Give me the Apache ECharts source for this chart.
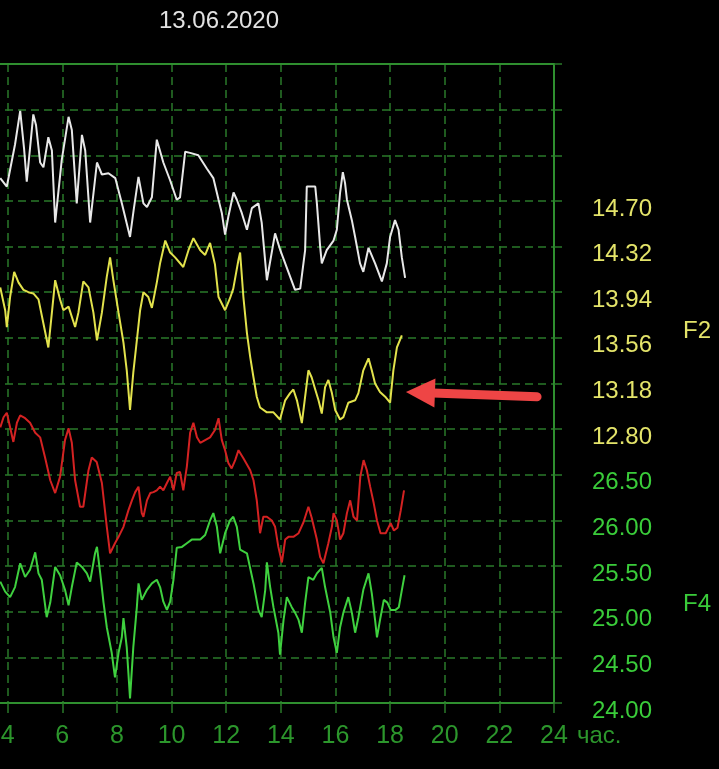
<!DOCTYPE html>
<html>
<head>
<meta charset="utf-8">
<script src="https://cdn.jsdelivr.net/npm/echarts@6/dist/echarts.min.js"></script>
<style>
html,body{margin:0;padding:0;background:#000;}
#c{width:719px;height:769px;}
</style>
</head>
<body>
<div id="c"></div>
<script>
// ---- data (hours of day, values) ----
var titleText = '13.06.2020';
var xTicks = [2, 24, 2]; // min, max, step (hours)
var yellowTicks = [14.70, 14.32, 13.94, 13.56, 13.18, 12.80];
var greenTicks = [26.50, 26.00, 25.50, 25.00, 24.50, 24.00];
var yellowRange = [10.52, 15.84];
var greenRange = [24.00, 31.00];

var whiteT = [3.73,3.97,4.27,4.46,4.60,4.70,4.94,5.04,5.19,5.31,5.49,5.62,5.74,5.98,6.23,6.35,6.53,6.72,6.84,7.02,7.27,7.45,7.69,7.94,8.18,8.48,8.61,8.79,8.97,9.10,9.28,9.46,9.70,9.95,10.19,10.31,10.50,10.68,10.98,11.29,11.53,11.72,11.84,11.96,12.08,12.27,12.39,12.57,12.76,12.94,13.18,13.30,13.49,13.79,13.98,14.52,14.71,14.89,14.95,15.26,15.32,15.44,15.50,15.68,15.93,16.05,16.17,16.27,16.35,16.42,16.60,16.72,16.90,17.02,17.21,17.45,17.70,17.88,18.00,18.18,18.31,18.43,18.55];
var whiteV = [14.89,14.82,15.17,15.45,15.14,14.86,15.42,15.33,15.02,14.98,15.23,15.12,14.52,15.04,15.40,15.29,14.68,15.25,15.12,14.52,15.02,14.92,14.93,14.89,14.68,14.40,14.62,14.90,14.68,14.65,14.73,15.21,15.02,14.87,14.71,14.73,15.11,15.10,15.08,14.97,14.89,14.71,14.60,14.42,14.57,14.77,14.71,14.60,14.46,14.64,14.68,14.52,14.04,14.43,14.29,13.96,13.97,14.29,14.82,14.82,14.68,14.32,14.18,14.29,14.37,14.46,14.77,14.94,14.85,14.71,14.54,14.40,14.18,14.11,14.31,14.18,14.03,14.18,14.40,14.54,14.46,14.23,14.06];

var yellowT = [3.73,3.91,3.97,4.09,4.24,4.40,4.58,4.76,4.94,5.13,5.31,5.49,5.62,5.74,5.92,6.04,6.23,6.47,6.59,6.77,6.96,7.14,7.27,7.45,7.63,7.75,7.87,8.06,8.24,8.36,8.48,8.60,8.73,8.85,8.97,9.15,9.28,9.46,9.58,9.77,9.95,10.13,10.43,10.62,10.80,11.05,11.23,11.41,11.59,11.72,11.96,12.14,12.26,12.45,12.51,12.63,12.76,12.88,13.00,13.12,13.24,13.49,13.73,13.97,14.16,14.34,14.46,14.59,14.77,14.89,15.01,15.13,15.26,15.38,15.50,15.62,15.74,15.87,15.99,16.17,16.29,16.47,16.72,16.84,17.02,17.21,17.33,17.45,17.63,17.82,18.00,18.12,18.25,18.43];
var yellowV = [13.98,13.79,13.65,13.90,14.11,14.02,13.96,13.94,13.93,13.88,13.68,13.48,13.77,14.04,13.88,13.79,13.82,13.65,13.77,14.03,13.98,13.77,13.54,13.77,14.07,14.23,14.04,13.77,13.52,13.29,12.96,13.27,13.54,13.79,13.94,13.90,13.81,14.02,14.18,14.37,14.27,14.23,14.15,14.29,14.39,14.29,14.25,14.35,14.17,13.90,13.79,13.89,13.97,14.21,14.27,13.90,13.60,13.40,13.23,13.07,12.98,12.94,12.94,12.88,13.04,13.10,13.13,13.04,12.85,13.07,13.29,13.23,13.13,13.04,12.93,13.15,13.21,13.10,12.96,12.88,12.90,13.02,13.04,13.10,13.29,13.39,13.29,13.18,13.11,13.07,13.02,13.29,13.48,13.58];

var redT = [3.73,3.85,3.97,4.09,4.21,4.34,4.46,4.64,4.82,5.01,5.19,5.37,5.56,5.74,5.92,6.10,6.23,6.35,6.47,6.65,6.77,6.96,7.08,7.26,7.45,7.63,7.75,7.93,8.06,8.24,8.42,8.55,8.67,8.79,8.91,8.97,9.10,9.22,9.34,9.46,9.58,9.70,9.83,9.95,10.07,10.19,10.31,10.43,10.56,10.68,10.80,10.93,11.05,11.23,11.41,11.59,11.72,11.84,11.96,12.08,12.20,12.33,12.45,12.63,12.88,13.00,13.12,13.24,13.36,13.49,13.67,13.79,13.91,14.04,14.16,14.28,14.46,14.65,14.83,15.01,15.13,15.32,15.44,15.56,15.74,15.87,15.93,16.05,16.17,16.29,16.42,16.54,16.66,16.79,16.91,17.03,17.15,17.27,17.40,17.52,17.65,17.84,18.02,18.14,18.27,18.39,18.51];
var redV = [27.02,27.13,27.18,27.02,26.86,27.07,27.15,27.12,27.07,26.96,26.91,26.69,26.44,26.30,26.48,26.88,27.01,26.85,26.44,26.15,26.15,26.55,26.69,26.64,26.41,25.93,25.64,25.75,25.82,25.93,26.11,26.22,26.31,26.37,26.08,26.04,26.22,26.30,26.31,26.33,26.37,26.33,26.41,26.48,26.33,26.52,26.53,26.33,26.59,26.96,27.07,26.91,26.85,26.88,26.91,26.99,27.12,26.88,26.77,26.63,26.57,26.66,26.77,26.68,26.55,26.44,26.22,25.86,26.04,26.04,26.00,25.93,25.71,25.54,25.79,25.82,25.82,25.86,25.98,26.15,26.03,25.79,25.60,25.53,25.75,25.93,26.08,26.00,25.79,25.86,26.08,26.22,26.04,26.00,26.48,26.66,26.55,26.37,26.19,26.00,25.86,25.86,25.97,25.89,25.92,26.11,26.33];

var greenT = [3.73,3.91,4.09,4.27,4.46,4.64,4.82,5.01,5.13,5.25,5.43,5.56,5.74,5.92,6.10,6.23,6.35,6.53,6.72,6.90,7.02,7.20,7.27,7.39,7.51,7.63,7.81,7.93,8.06,8.18,8.24,8.36,8.48,8.60,8.73,8.79,8.91,9.10,9.28,9.46,9.58,9.70,9.83,9.95,10.07,10.19,10.38,10.56,10.74,11.05,11.23,11.41,11.53,11.66,11.78,11.96,12.14,12.26,12.39,12.51,12.76,13.00,13.18,13.30,13.43,13.49,13.61,13.73,13.91,13.97,14.10,14.22,14.40,14.52,14.65,14.77,14.89,15.01,15.19,15.32,15.50,15.62,15.81,15.93,16.05,16.17,16.29,16.47,16.60,16.72,16.84,17.02,17.21,17.33,17.45,17.52,17.65,17.77,17.90,18.02,18.20,18.32,18.45,18.53];
var greenV = [25.33,25.22,25.16,25.27,25.53,25.38,25.46,25.65,25.42,25.35,24.94,25.10,25.49,25.40,25.24,25.07,25.27,25.54,25.49,25.42,25.33,25.64,25.71,25.42,25.10,24.83,24.55,24.28,24.55,24.72,24.93,24.61,24.05,24.61,25.05,25.31,25.13,25.24,25.31,25.35,25.27,25.11,25.02,25.11,25.35,25.70,25.71,25.75,25.79,25.79,25.84,26.00,26.08,25.93,25.64,25.86,26.00,26.04,25.93,25.68,25.64,25.31,25.02,24.94,25.24,25.54,25.27,25.05,24.77,24.53,24.91,25.16,25.05,24.99,24.91,24.77,25.10,25.38,25.35,25.42,25.48,25.27,24.99,24.72,24.55,24.83,24.99,25.16,24.99,24.77,24.94,25.24,25.42,25.20,24.91,24.72,24.94,25.13,25.10,25.02,25.02,25.05,25.27,25.40];

// arrow annotation (hour, yellow-scale value)
var arrowTip = [18.58, 13.11];
var arrowTail = [23.38, 13.07];

function pairs(t, v){ return t.map(function(x,i){ return [x, v[i]]; }); }

var FONT = '"Liberation Sans", Arial, sans-serif';
var GRIDC = '#2a7a2a';
var FRAMEC = '#2f8f2f';
var dash = [8,5];

var chart = echarts.init(document.getElementById('c'), null, {renderer:'canvas'});
var option = {
  animation: false,
  backgroundColor: '#000',
  grid: { left: -47, right: 165, top: 64, bottom: 66, containLabel: false, outerBoundsMode: 'none' },
  xAxis: [{
    type: 'value', min: xTicks[0], max: xTicks[1], interval: xTicks[2], position: 'bottom',
    axisLine: { show: true, lineStyle: { color: FRAMEC, width: 2 } },
    axisTick: { show: true, length: 10, lineStyle: { color: GRIDC, width: 1.5 } },
    axisLabel: { color: '#2c962c', fontSize: 25, fontFamily: FONT, margin: 21, lineHeight: 24 },
    splitLine: { show: true, lineStyle: { color: GRIDC, width: 1.5, type: dash } }
  },{
    type: 'value', min: xTicks[0], max: xTicks[1], interval: xTicks[2], position: 'top',
    axisLine: { show: true, lineStyle: { color: FRAMEC, width: 2 } },
    axisTick: { show: false }, axisLabel: { show: false }, splitLine: { show: false }
  }],
  yAxis: [{
    type: 'value', min: yellowRange[0], max: yellowRange[1], position: 'right',
    axisLine: { show: false }, axisTick: { show: false }, splitLine: { show: false },
    axisLabel: { customValues: yellowTicks, color: '#e4e46a', fontSize: 24, fontFamily: FONT, margin: 38,
      verticalAlign: 'top', lineHeight: 16,
      formatter: function(v){ return Number(v).toFixed(2); } }
  },{
    type: 'value', min: greenRange[0], max: greenRange[1], position: 'right',
    axisLine: { show: false }, axisTick: { show: false }, splitLine: { show: false },
    axisLabel: { customValues: greenTicks, color: '#3acc3a', fontSize: 24, fontFamily: FONT, margin: 38,
      verticalAlign: 'top', lineHeight: 16,
      formatter: function(v){ return Number(v).toFixed(2); } }
  },{
    type: 'value', min: 0, max: 14, interval: 1, position: 'right',
    axisLine: { show: true, lineStyle: { color: FRAMEC, width: 2 } },
    axisTick: { show: true, length: 13, lineStyle: { color: GRIDC, width: 1.5, type: dash } },
    axisLabel: { show: false },
    splitLine: { show: true, lineStyle: { color: GRIDC, width: 1.5, type: dash } }
  }],
  series: [
    { type: 'line', name: 'F1', xAxisIndex: 0, yAxisIndex: 0, data: pairs(whiteT, whiteV), showSymbol: false, lineStyle: { color: '#e8e8e8', width: 2 }, itemStyle:{color:'#e8e8e8'} },
    { type: 'line', name: 'F2', xAxisIndex: 0, yAxisIndex: 0, data: pairs(yellowT, yellowV), showSymbol: false, lineStyle: { color: '#e2e24c', width: 2 }, itemStyle:{color:'#e2e24c'} },
    { type: 'line', name: 'F3', xAxisIndex: 0, yAxisIndex: 1, data: pairs(redT, redV), showSymbol: false, lineStyle: { color: '#d42222', width: 2 }, itemStyle:{color:'#d42222'} },
    { type: 'line', name: 'F4', xAxisIndex: 0, yAxisIndex: 1, data: pairs(greenT, greenV), showSymbol: false, lineStyle: { color: '#3fd03f', width: 2 }, itemStyle:{color:'#3fd03f'} }
  ]
};
chart.setOption(option);

var tip = chart.convertToPixel({xAxisIndex:0, yAxisIndex:0}, arrowTip);
var tail = chart.convertToPixel({xAxisIndex:0, yAxisIndex:0}, arrowTail);
var dx = tail[0]-tip[0], dy = tail[1]-tip[1], L = Math.sqrt(dx*dx+dy*dy);
var ux = dx/L, uy = dy/L, px = -uy, py = ux;
var headLen = 29, headHalf = 14.5;
var bx = tip[0]+ux*headLen, by = tip[1]+uy*headLen;
var ARROWC = '#ee4545';

chart.setOption({
  graphic: [
    { type: 'text', x: 219, y: 21, style: { text: titleText, fill: '#e2e2e2', font: '24px ' + FONT, align: 'center', verticalAlign: 'middle' } },
    { type: 'text', x: 683, y: 331, style: { text: 'F2', fill: '#e4e46a', font: '24px ' + FONT, align: 'left', verticalAlign: 'middle' } },
    { type: 'text', x: 683, y: 604, style: { text: 'F4', fill: '#3acc3a', font: '24px ' + FONT, align: 'left', verticalAlign: 'middle' } },
    { type: 'text', x: 577, y: 736, style: { text: 'час.', fill: '#2c962c', font: '24px ' + FONT, align: 'left', verticalAlign: 'middle' } },
    { type: 'line', shape: { x1: bx - ux*2, y1: by - uy*2, x2: tail[0], y2: tail[1] }, style: { stroke: ARROWC, lineWidth: 9, lineCap: 'round' }, z: 100 },
    { type: 'polygon', shape: { points: [[tip[0], tip[1]], [bx + px*headHalf, by + py*headHalf], [bx - px*headHalf, by - py*headHalf]] }, style: { fill: ARROWC }, z: 100 }
  ]
});
</script>
</body>
</html>
